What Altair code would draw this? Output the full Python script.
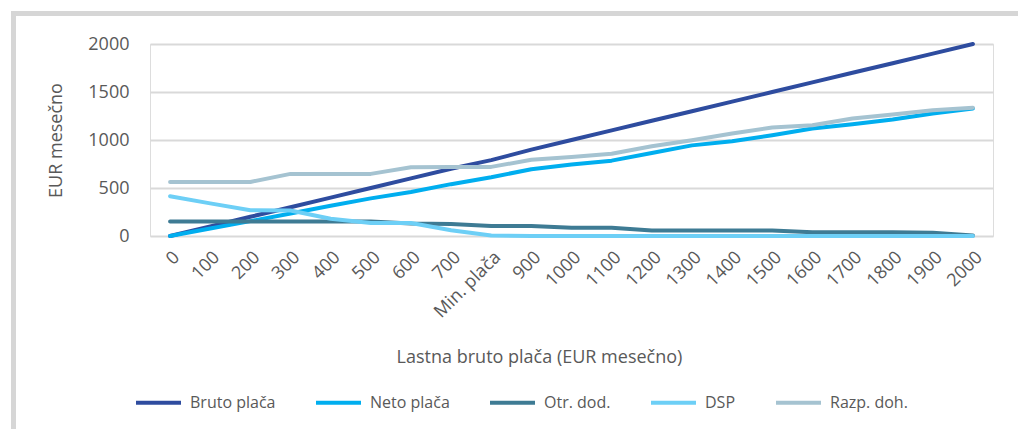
import altair as alt
import pandas as pd

categories = ["0", "100", "200", "300", "400", "500", "600", "700", "Min. plača",
              "900", "1000", "1100", "1200", "1300", "1400", "1500", "1600",
              "1700", "1800", "1900", "2000"]

series_names = ["Bruto plača", "Neto plača", "Otr. dod.", "DSP", "Razp. doh."]
series_colors = ["#2E4C9F", "#00AEEF", "#3E7B94", "#6DCFF6", "#A5C3D1"]

bruto = [0, 100, 200, 300, 400, 500, 600, 700, 790, 900, 1000, 1100, 1200, 1300,
         1400, 1500, 1600, 1700, 1800, 1900, 2000]
neto = [0, 78, 155, 234, 315, 392, 458, 540, 612, 696, 745, 785, 865, 944, 986,
        1049, 1119, 1165, 1213, 1276, 1329]
otr_dod = [150, 150, 150, 150, 150, 150, 130, 125, 105, 105, 85, 85, 57, 57, 57,
           57, 40, 40, 40, 35, 5]
dsp = [415, 340, 268, 265, 180, 135, 135, 60, 5, 0, 0, 0, 0, 0, 0, 0, 0, 0, 0, 0, 0]
razp_doh = [563, 563, 563, 647, 647, 647, 717, 720, 720, 794, 822, 857, 935, 997,
            1067, 1130, 1154, 1224, 1266, 1311, 1336]

y_ticks = [0, 500, 1000, 1500, 2000]

rows = []
for name, vals in zip(series_names, [bruto, neto, otr_dod, dsp, razp_doh]):
    for c, v in zip(categories, vals):
        rows.append({"kat": c, "serija": name, "vrednost": v})
df = pd.DataFrame(rows)

FONT = "Open Sans"
TXT = "#595959"

lines = alt.Chart(df).mark_line(strokeWidth=4, strokeCap="round", strokeJoin="round").encode(
    x=alt.X("kat:N", sort=categories,
            scale=alt.Scale(type="point", padding=0.5),
            axis=alt.Axis(title="Lastna bruto plača (EUR mesečno)", labelAngle=-45,
                          labelFontSize=18, labelColor=TXT, labelPadding=12,
                          ticks=False, domain=False, grid=False,
                          titleFontSize=18, titleFontWeight="normal", titleColor=TXT,
                          titleBaseline="alphabetic", titleY=126, titleX=389,
                          titleAlign="center", labelFont=FONT, titleFont=FONT)),
    y=alt.Y("vrednost:Q", scale=alt.Scale(domain=[0, 2000], nice=False),
            axis=alt.Axis(title="EUR mesečno", values=y_ticks, format="d",
                          labelFontSize=18, labelColor=TXT, labelPadding=21,
                          ticks=False, domain=False,
                          grid=True, gridColor="#D9D9D9", gridWidth=2,
                          titleFontSize=18, titleFontWeight="normal", titleColor=TXT,
                          titlePadding=22, labelFont=FONT, titleFont=FONT)),
    color=alt.Color("serija:N", sort=series_names,
                    scale=alt.Scale(domain=series_names, range=series_colors),
                    legend=alt.Legend(title=None, orient="none", legendX=-16, legendY=334,
                                      direction="horizontal", symbolType="stroke",
                                      symbolSize=2025, symbolStrokeWidth=4,
                                      labelFontSize=16, labelColor=TXT, labelFont=FONT,
                                      labelOffset=7, columnPadding=32, padding=0)),
)

frame_data = alt.Data(values=[{"a": 1}])
frame_v = alt.Chart(frame_data).mark_rule(color="#D6D6D6", strokeWidth=5).encode(
    x=alt.value(-136.5), y=alt.value(-33), y2=alt.value(420))
frame_h = alt.Chart(frame_data).mark_rule(color="#D6D6D6", strokeWidth=5).encode(
    x=alt.value(-139), x2=alt.value(900), y=alt.value(-30.5))

chart = alt.layer(frame_v, frame_h, lines).properties(
    width=843, height=192,
    autosize=alt.AutoSizeParams(type="none"),
    padding={"left": 142, "top": 36, "right": 25, "bottom": 193},
).configure_view(stroke=None).configure(font=FONT)

chart.save("out.html", embed_options={"renderer": "svg", "actions": False})
